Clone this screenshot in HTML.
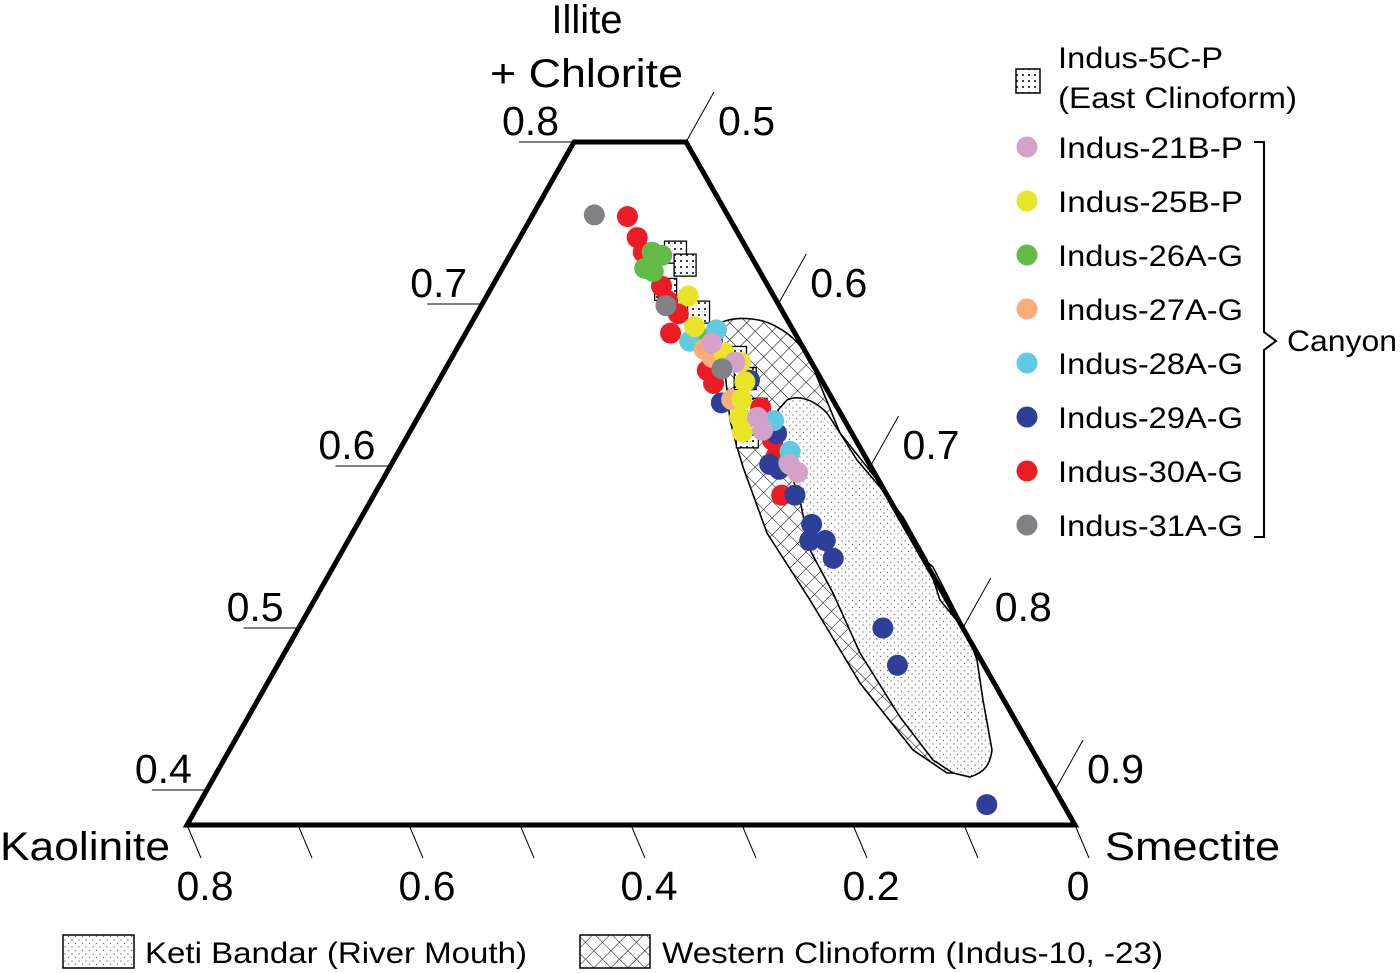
<!DOCTYPE html>
<html><head><meta charset="utf-8"><style>
html,body{margin:0;padding:0;background:#fff}
svg{display:block;font-family:"Liberation Sans",Arial,sans-serif}
</style></head><body>
<svg id="chart" width="1400" height="973" viewBox="0 0 1400 973" xmlns="http://www.w3.org/2000/svg">
<defs>
<pattern id="hatch" patternUnits="userSpaceOnUse" width="12" height="12" patternTransform="rotate(45)">
<line x1="0" y1="0" x2="0" y2="12" stroke="#000" stroke-width="1"/>
<line x1="0" y1="0" x2="12" y2="0" stroke="#000" stroke-width="1"/>
</pattern>
<pattern id="stip" patternUnits="userSpaceOnUse" width="7" height="7">
<circle cx="2" cy="2" r="0.7" fill="#777"/><circle cx="5.5" cy="5.5" r="0.7" fill="#777"/>
</pattern>
<pattern id="sqdots" patternUnits="userSpaceOnUse" width="6" height="6">
<circle cx="3" cy="3" r="1" fill="#000"/>
</pattern>
</defs>
<g id="regions">
<path fill="#fff" stroke="none" d="M720,323 C735,316 760,317 777,327 C790,334 805,345 817,377 L840,433 L867,467 L887,493 L917,553 L933,567 L960,620 L973,650 L977,700 L983,750 L967,773 L947,773 L913,750 L860,683 L810,600 L767,533 L743,467 L737,447 L730,420 Z"/>
<path fill="url(#hatch)" stroke="#000" stroke-width="1.6" d="M720,323 C735,316 760,317 777,327 C790,334 805,345 817,377 L840,433 L867,467 L887,493 L917,553 L933,567 L960,620 L973,650 L977,700 L983,750 L967,773 L947,773 L913,750 L860,683 L810,600 L767,533 L743,467 L737,447 L730,420 Z"/>
<path fill="#fff" stroke="none" d="M787,400 C795,396 810,396 827,413 L840,433 L857,460 L880,487 L903,517 L927,560 L940,600 L967,633 L977,660 L983,700 L992,750 C990,765 985,772 970,777 L953,773 L933,760 L900,717 L860,653 L833,593 L810,550 L800,500 L783,450 L778,410 Z"/>
<path fill="url(#stip)" stroke="#000" stroke-width="1.6" d="M787,400 C795,396 810,396 827,413 L840,433 L857,460 L880,487 L903,517 L927,560 L940,600 L967,633 L977,660 L983,700 L992,750 C990,765 985,772 970,777 L953,773 L933,760 L900,717 L860,653 L833,593 L810,550 L800,500 L783,450 L778,410 Z"/>
</g>
<polygon points="574,142 686,142 1075,825 187,825" fill="none" stroke="#000" stroke-width="5" stroke-linejoin="miter"/>
<g id="axes"></g>
<g id="marks"></g>
<text x="587" y="33" font-size="40" text-anchor="middle">Illite</text>
<text x="490" y="87" font-size="40" textLength="193" lengthAdjust="spacingAndGlyphs">+ Chlorite</text>
<text x="0" y="860" font-size="40" textLength="170" lengthAdjust="spacingAndGlyphs">Kaolinite</text>
<text x="1105" y="860" font-size="40" textLength="175" lengthAdjust="spacingAndGlyphs">Smectite</text>
<g font-size="30">
<rect x="1016" y="69" width="24" height="24" fill="#fff" stroke="#000" stroke-width="1.5"/>
<rect x="1016" y="69" width="24" height="24" fill="url(#sqdots)" stroke="none"/>
<text x="1058" y="68" textLength="165" lengthAdjust="spacingAndGlyphs">Indus-5C-P</text>
<text x="1058" y="108" textLength="239" lengthAdjust="spacingAndGlyphs">(East Clinoform)</text>
<g id="legend-circles"></g>
<path d="M1254,142 L1264,142 L1264,332 L1276,341 L1264,350 L1264,537 L1254,537" fill="none" stroke="#000" stroke-width="2"/>
<text x="1287" y="351" font-size="30" textLength="110" lengthAdjust="spacingAndGlyphs">Canyon</text>
</g>
<g font-size="30">
<rect x="63" y="935" width="71" height="33" fill="url(#stip)" stroke="#000" stroke-width="1.5"/>
<text x="145" y="963" textLength="382" lengthAdjust="spacingAndGlyphs">Keti Bandar (River Mouth)</text>
<rect x="580" y="935" width="70" height="33" fill="url(#hatch)" stroke="#000" stroke-width="1.5"/>
<text x="662" y="963" textLength="501" lengthAdjust="spacingAndGlyphs">Western Clinoform (Indus-10, -23)</text>
</g>
</svg>
<script>
// Axis tick values
const leftTicks = [0.8, 0.7, 0.6, 0.5, 0.4];
const rightTicks = [0.5, 0.6, 0.7, 0.8, 0.9];
const bottomTicks = [0.8, 0.7, 0.6, 0.5, 0.4, 0.3, 0.2, 0.1, 0];
const bottomLabels = ["0.8", "", "0.6", "", "0.4", "", "0.2", "", "0"];
// Data: k = bottom-axis value, i = illite+chlorite value
const s5C_k = [0.066, 0.064, 0.094, 0.076, 0.066, 0.068, 0.074, 0.096];
const s5C_i = [0.732, 0.724, 0.709, 0.695, 0.667, 0.654, 0.635, 0.618];
const s30A_k = [0.091, 0.093, 0.095, 0.096, 0.098, 0.095, 0.112, 0.098, 0.099, 0.069, 0.075, 0.080, 0.095];
const s30A_i = [0.754, 0.741, 0.732, 0.711, 0.702, 0.694, 0.682, 0.659, 0.651, 0.636, 0.616, 0.606, 0.582];
const s26A_k = [0.087, 0.080, 0.102, 0.096, 0.089];
const s26A_i = [0.732, 0.730, 0.722, 0.720, 0.681];
const s29A_k = [0.102, 0.065, 0.068, 0.090, 0.084, 0.083, 0.083, 0.093, 0.079, 0.081, 0.072, 0.078, 0.069];
const s29A_i = [0.639, 0.653, 0.620, 0.601, 0.598, 0.582, 0.564, 0.554, 0.554, 0.543, 0.500, 0.477, 0.391];
const s28A_k = [0.099, 0.069, 0.064, 0.065, 0.072];
const s28A_i = [0.677, 0.684, 0.628, 0.609, 0.602];
const s27A_k = [0.090, 0.087, 0.091];
const s27A_i = [0.672, 0.667, 0.641];
const s25B_k = [0.077, 0.087, 0.074, 0.064, 0.070, 0.082, 0.093, 0.098];
const s25B_i = [0.705, 0.686, 0.670, 0.664, 0.652, 0.641, 0.630, 0.621];
const s21B_k = [0.080, 0.069, 0.077, 0.079, 0.072, 0.069];
const s21B_i = [0.676, 0.664, 0.630, 0.622, 0.601, 0.596];
const s31A_k = [0.120, 0.102, 0.084];
const s31A_i = [0.755, 0.699, 0.660];

const NS = "http://www.w3.org/2000/svg";
const BASE_Y = 825, SLOPE = 389 / 683;
function yI(i) { return 142 + (0.8 - i) * 1620; }
function xK(k, y) { return 1075 - 1110 * k - (BASE_Y - y) * SLOPE; }
function leftEdgeX(y) { return 574 - (y - 142) * (387 / 683); }
function rightEdgeX(y) { return 686 + (y - 142) * SLOPE; }
function mk(tag, attrs, parent) {
  const e = document.createElementNS(NS, tag);
  for (const a in attrs) e.setAttribute(a, attrs[a]);
  parent.appendChild(e); return e;
}
const axes = document.getElementById("axes");
leftTicks.forEach((v) => {
  const y = yI(v), x = leftEdgeX(y);
  const l = mk("line", {x1: x - 55, y1: y, x2: x, y2: y, stroke: "#000", "stroke-width": 1}, axes);
  
  
  const t = mk("text", {x: x - 15, y: y - 7, "font-size": 41, "text-anchor": "end"}, axes);
  t.textContent = v.toFixed(1);
  
  
});
rightTicks.forEach((v) => {
  const y = yI(1.3 - v), x = rightEdgeX(y);
  const l = mk("line", {x1: x, y1: y, x2: x + 28, y2: y - 50, stroke: "#000", "stroke-width": 1}, axes);
  
  
  const t = mk("text", {x: x + 32, y: y - 7, "font-size": 41}, axes);
  t.textContent = v.toFixed(1);
  
  
});
bottomTicks.forEach((v, idx) => {
  const x = xK(v, BASE_Y);
  const l = mk("line", {x1: x, y1: BASE_Y, x2: x + 14, y2: BASE_Y + 33, stroke: "#000", "stroke-width": 1}, axes);
  
  
  if (bottomLabels[idx]) {
    const off = v === 0 ? 3 : 18;
    const t = mk("text", {x: x + off, y: 900, "font-size": 41, "text-anchor": "middle"}, axes);
    t.textContent = bottomLabels[idx];
    
    
  }
});
const marks = document.getElementById("marks");
s5C_k.forEach((k, j) => {
  const y = yI(s5C_i[j]), x = xK(k, y);
  const r = mk("rect", {x: x - 11, y: y - 11, width: 22, height: 22, fill: "#fff", stroke: "#000", "stroke-width": 1.3}, marks);
  
  
  const d = mk("rect", {x: x - 11, y: y - 11, width: 22, height: 22, fill: "url(#sqdots)"}, marks);
  
  
});
const series = [
  ["indus-30a-g", s30A_k, s30A_i, "#ec1c24"],
  ["indus-26a-g", s26A_k, s26A_i, "#62bb46"],
  ["indus-29a-g", s29A_k, s29A_i, "#2e3f97"],
  ["indus-28a-g", s28A_k, s28A_i, "#5fcbe0"],
  ["indus-27a-g", s27A_k, s27A_i, "#f9ad78"],
  ["indus-25b-p", s25B_k, s25B_i, "#e8e42a"],
  ["indus-21b-p", s21B_k, s21B_i, "#d4a1cb"],
  ["indus-31a-g", s31A_k, s31A_i, "#808285"]
];
series.forEach(([name, ks, is, col]) => {
  ks.forEach((k, j) => {
    const y = yI(is[j]), x = xK(k, y);
    const c = mk("circle", {cx: x, cy: y, r: 10.5, fill: col}, marks);
    
    
  });
});
const legendNames = ["Indus-21B-P","Indus-25B-P","Indus-26A-G","Indus-27A-G","Indus-28A-G","Indus-29A-G","Indus-30A-G","Indus-31A-G"];
const legendColors = ["#d4a1cb","#e8e42a","#62bb46","#f9ad78","#5fcbe0","#2e3f97","#ec1c24","#808285"];
const lg = document.getElementById("legend-circles");
legendNames.forEach((n, j) => {
  const y = 147 + j * 54;
  const c = mk("circle", {cx: 1027, cy: y, r: 10.5, fill: legendColors[j]}, lg);
  
  
  const t = mk("text", {x: 1058, y: y + 11, "font-size": 30, textLength: 185, lengthAdjust: "spacingAndGlyphs"}, lg);
  t.textContent = n;
  
  
});
</script>
</body></html>
